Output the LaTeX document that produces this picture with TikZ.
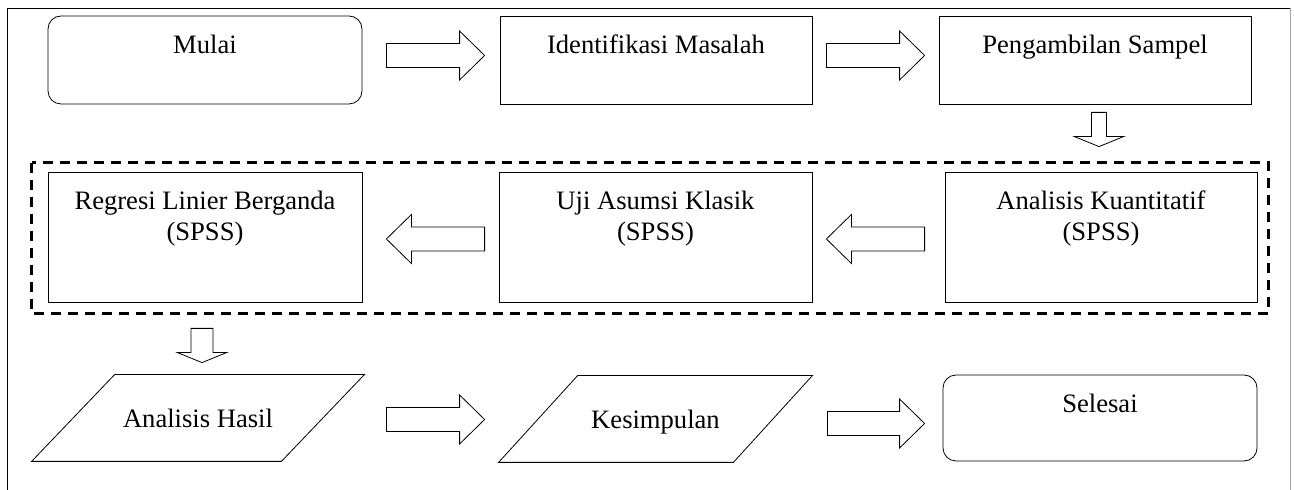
\documentclass[tikz,border=0pt]{standalone}
\usepackage{fontspec}
\setmainfont{Liberation Serif}
\usetikzlibrary{calc}
\tikzset{>=latex, line width=0.8pt}
\tikzset{
  every node/.style={font=\fontsize{13.3}{15.5}\selectfont},
  box/.style={draw, rectangle, inner sep=0pt},
  terminal/.style={box, rounded corners=6.5pt},
  io/.style={rectangle, inner sep=0pt, minimum height=43pt, text depth=0pt},
  boxtext/.style={anchor=north, yshift=-9.5pt, inner sep=0pt, align=center},
  blockarrow/.style={draw, line join=miter, fill=white},
  group/.style={line width=1.25pt, dash pattern=on 5pt off 3.5pt},
}
% hollow arrows: [direction] tail, tip
\def\shaftw{12}
\def\headw{24.5}
\def\headl{25}
\newcommand{\harrow}[3][-1]{%
  \draw[blockarrow] ($(#2)+(0,-\shaftw)$) -- ($(#3)+(#1*\headl,-\shaftw)$) -- ($(#3)+(#1*\headl,-\headw)$) -- (#3)
    -- ($(#3)+(#1*\headl,\headw)$) -- ($(#3)+(#1*\headl,\shaftw)$) -- ($(#2)+(0,\shaftw)$) -- cycle;}
\newcommand{\varrow}[3]{%
  \draw[blockarrow] ($(#2)+(-#1,0)$) -- ($(#3)+(-#1,-10)$) -- ($(#3)+(-\headw,-10)$) -- (#3)
    -- ($(#3)+(\headw,-10)$) -- ($(#3)+(#1,-10)$) -- ($(#2)+(#1,0)$) -- cycle;}
% parallelogram round an io node
\newcommand{\slantframe}[2]{%
  \draw ([xshift=#2]#1.north west) -- (#1.north east) -- ([xshift=-#2]#1.south east) -- (#1.south west) -- cycle;}

\begin{document}
\begin{tikzpicture}[x=0.5pt, y=-0.5pt]
  \useasboundingbox (0,0) rectangle (1294,490);

  % frame
  \draw (7,490) -- (7,8) -- (1290,8);
  \draw[gray!70, line width=0.5pt] (1290,8) -- (1290,490);

  % top row
  \node[terminal, minimum width=157pt, minimum height=44pt, label={[boxtext]north:Mulai}] (mulai) at (205,60) {};
  \node[box, minimum width=156pt, minimum height=44pt, label={[boxtext]north:Identifikasi Masalah}] (ident) at (656,60) {};
  \node[box, minimum width=156pt, minimum height=44pt, label={[boxtext]north:Pengambilan Sampel}] (sampel) at (1095,60) {};

  % middle row (SPSS)
  \node[box, minimum width=157pt, minimum height=65pt, label={[boxtext]north:{Regresi Linier Berganda\\(SPSS)}}] (regresi) at (205,237) {};
  \node[box, minimum width=156.5pt, minimum height=65pt, label={[boxtext]north:{Uji Asumsi Klasik\\(SPSS)}}] (uji) at (655.5,237) {};
  \node[box, minimum width=156pt, minimum height=65pt, label={[boxtext]north:{Analisis Kuantitatif\\(SPSS)}}] (kuant) at (1101,237) {};
  \draw[group] ([shift={(-16,-9)}]regresi.north west) rectangle ([shift={(11,11)}]kuant.south east);

  % bottom row
  \node[io, minimum width=166pt] (hasil) at (198,418) {Analisis Hasil};
  \slantframe{hasil}{41.5pt}
  \node[io, minimum width=156.5pt] (kesimp) at (655.5,419) {Kesimpulan};
  \slantframe{kesimp}{39.5pt}
  \node[terminal, minimum width=157pt, minimum height=43pt, label={[boxtext]north:Selesai}] (selesai) at (1100,418) {};

  % arrow ends
  \coordinate (r1a) at ([shift={(24,-4.5)}]mulai.east);
  \coordinate (r1b) at ([shift={(-15,-4.5)}]ident.west);
  \coordinate (r2a) at ([shift={(14,-4.5)}]ident.east);
  \coordinate (r2b) at ([shift={(-14,-4.5)}]sampel.west);
  \coordinate (d1a) at ([shift={(4,8)}]sampel.south);
  \coordinate (d1b) at ([shift={(-2,-25)}]kuant.north);
  \coordinate (l1a) at ([shift={(-20,2)}]kuant.west);
  \coordinate (l1b) at ([shift={(14,2)}]uji.east);
  \coordinate (l2a) at ([shift={(-14,2)}]uji.west);
  \coordinate (l2b) at ([shift={(24,2)}]regresi.east);
  \coordinate (d2a) at ([shift={(-3,26)}]regresi.south);
  \coordinate (d2b) at ([shift={(4,-12)}]hasil.north);
  \coordinate (r3a) at ([shift={(22,1.5)}]hasil.east);
  \coordinate (r3b) at ([shift={(-14,0.5)}]kesimp.west);
  \coordinate (r4a) at ([shift={(15,4.5)}]kesimp.east);
  \coordinate (r4b) at ([shift={(-18,5.5)}]selesai.west);

  \harrow{r1a}{r1b}
  \harrow{r2a}{r2b}
  \varrow{7.5}{d1a}{d1b}
  \harrow[1]{l1a}{l1b}
  \harrow[1]{l2a}{l2b}
  \varrow{11}{d2a}{d2b}
  \harrow{r3a}{r3b}
  \harrow{r4a}{r4b}
\end{tikzpicture}
\end{document}
